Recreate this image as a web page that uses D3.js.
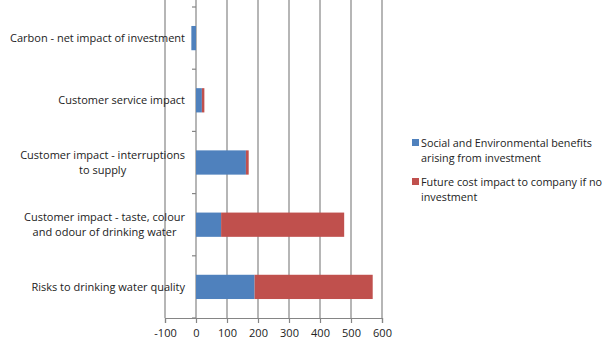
<!DOCTYPE html>
<html>
<head>
<meta charset="utf-8">
<script src="https://cdn.jsdelivr.net/npm/d3@7"></script>
<style>
  html, body { margin: 0; padding: 0; background: #fff; }
  svg { display: block; }
  text { font-family: "Open Sans", "Liberation Sans", sans-serif; fill: #222; }
</style>
</head>
<body>
<svg id="chart" width="607" height="343"></svg>
<script>
// Categories, top to bottom (each entry is a list of label lines)
const categories = [
  ["Carbon - net impact of investment"],
  ["Customer service impact"],
  ["Customer impact - interruptions", "to supply"],
  ["Customer impact - taste, colour", "and odour of drinking water"],
  ["Risks to drinking water quality"]
];
const seriesNames = [
  "Social and Environmental benefits arising from investment",
  "Future cost impact to company if no investment"
];
const legendLines = [
  ["Social and Environmental benefits", "arising from investment"],
  ["Future cost impact to company if no", "investment"]
];
const socialBenefits = [-15, 19, 161, 81, 189];
const futureCost = [0, 8, 9, 397, 381];
const xTicks = [-100, 0, 100, 200, 300, 400, 500, 600];
const colors = ["#4F81BD", "#C0504D"];

const svg = d3.select("#chart");
const margin = { top: 7, left: 165 };
const plotRight = 382;
const plotBottom = 318;

const x = d3.scaleLinear().domain([-100, 600]).range([margin.left, plotRight]);
const y = d3.scaleBand().domain(d3.range(categories.length))
  .range([margin.top, plotBottom]).paddingInner(0.61).paddingOuter(0.305);
const yBound = d3.scaleLinear().domain([0, categories.length]).range([margin.top, plotBottom]);

// Vertical gridlines
svg.append("g").selectAll("line").data(xTicks).join("line")
  .attr("x1", d => x(d)).attr("x2", d => x(d))
  .attr("y1", 0).attr("y2", plotBottom)
  .attr("stroke", "#858585").attr("stroke-width", 1.2);

// Bottom axis (plain hyphen for negatives)
const xAxis = svg.append("g").attr("transform", `translate(0,${plotBottom})`)
  .call(d3.axisBottom(x).tickValues(xTicks).tickFormat(d => String(d)).tickSize(5).tickPadding(6));
xAxis.select(".domain").attr("stroke", "#858585").attr("stroke-width", 1.2);
xAxis.selectAll(".tick line").attr("stroke", "#858585").attr("stroke-width", 1.2);
xAxis.selectAll("text").style("font-size", "11px").attr("fill", "#222")
  .style("font-family", "'Open Sans', sans-serif");

// Category axis at zero, with ticks between categories
svg.append("g").selectAll("line").data(d3.range(categories.length + 1)).join("line")
  .attr("x1", x(0) - 4).attr("x2", x(0))
  .attr("y1", d => yBound(d)).attr("y2", d => yBound(d))
  .attr("stroke", "#858585").attr("stroke-width", 1.2);

// Stacked bars
const stackData = categories.map((c, i) => ({ i, s: socialBenefits[i], f: futureCost[i] }));
const bars = svg.append("g");
stackData.forEach(d => {
  const segs = [
    { x0: Math.min(0, d.s), x1: Math.max(0, d.s), c: colors[0] },
    { x0: Math.max(0, d.s), x1: Math.max(0, d.s) + d.f, c: colors[1] }
  ];
  segs.filter(s => s.x1 > s.x0).forEach(s => {
    bars.append("rect")
      .attr("x", x(s.x0)).attr("width", x(s.x1) - x(s.x0))
      .attr("y", y(d.i)).attr("height", y.bandwidth())
      .attr("fill", s.c);
  });
});

// Category labels: lines centred on each other, block right-aligned
const labelRight = 185;
const lineH = 15;
categories.forEach((lines, i) => {
  const g = svg.append("g");
  const cy = y(i) + y.bandwidth() / 2;
  const texts = lines.map((ln, k) => g.append("text")
    .attr("y", cy + (k - (lines.length - 1) / 2) * lineH)
    .attr("dy", "0.35em")
    .style("font-size", "11px")
    .text(ln));
  const maxW = d3.max(texts, t => t.node().getComputedTextLength());
  texts.forEach(t => t.attr("x", labelRight - maxW / 2).attr("text-anchor", "middle"));
});

// Legend
const legend = svg.append("g");
const legendY = [143, 182];
legendLines.forEach((lines, i) => {
  legend.append("rect").attr("x", 412).attr("y", legendY[i] - 4)
    .attr("width", 7).attr("height", 7).attr("fill", colors[i]);
  lines.forEach((ln, k) => {
    legend.append("text").attr("x", 421).attr("y", legendY[i] + k * 15)
      .attr("dy", "0.35em").style("font-size", "10.8px").text(ln);
  });
});
</script>
</body>
</html>
